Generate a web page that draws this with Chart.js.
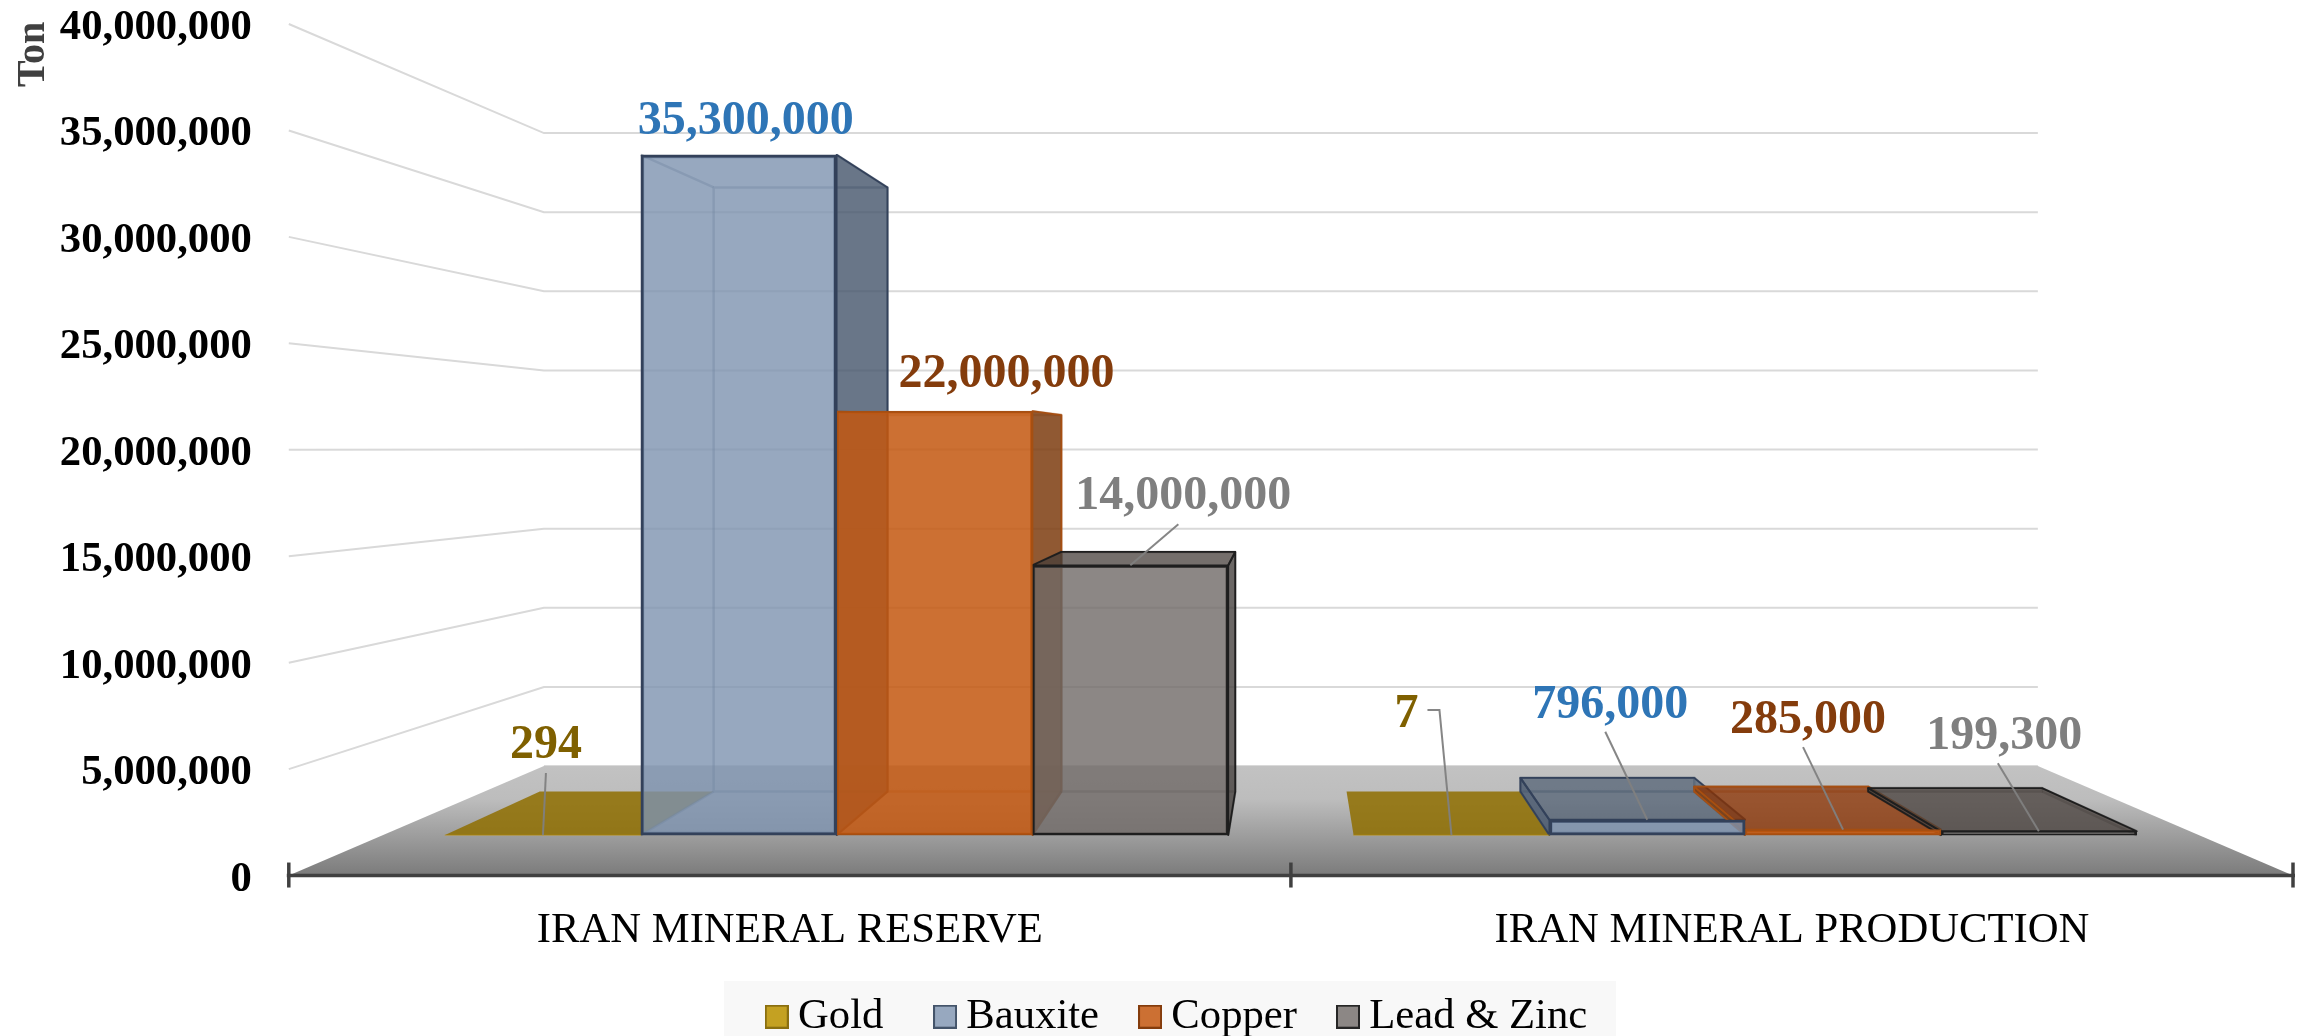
<!DOCTYPE html>
<html>
<head>
<meta charset="utf-8">
<style>html,body{margin:0;padding:0;background:#fff}canvas{display:block}</style>
<script src="https://cdn.jsdelivr.net/npm/chart.js@4/dist/chart.umd.min.js"></script>
</head>
<body>
<canvas id="c" width="2308" height="1036"></canvas>
<script>
const categories = ['IRAN MINERAL RESERVE', 'IRAN MINERAL PRODUCTION'];
const seriesNames = ['Gold', 'Bauxite', 'Copper', 'Lead & Zinc'];
const gold = [294, 7];
const bauxite = [35300000, 796000];
const copper = [22000000, 285000];
const leadZinc = [14000000, 199300];
const axisTicks = [0, 5000000, 10000000, 15000000, 20000000, 25000000, 30000000, 35000000, 40000000];

const FONT = '"Liberation Serif","Times New Roman",serif';
const VP_Y = 446, BAR_DEPTH = 0.888, WALL_VP_Y = 449, WALL_DEPTH_X = 0.7454, WALL_DEPTH_Y = 0.7434;

const styles = [
  {fill:'rgba(191,144,0,.85)', flat:'rgba(143,110,0,.85)', edge:'#7F6000', label:'#7F6000', key:'#C4A122', keyEdge:'#8A6F10', bw:0},
  {fill:'rgba(125,146,175,.8)', shade:'rgba(68,84,106,.8)', top:'rgba(68,84,106,.65)', edge:'#33415A', hidden:'rgba(68,84,106,.4)', label:'#2E75B6', key:'#97A8BF', keyEdge:'#44546A', bw:3},
  {fill:'rgba(195,87,15,.85)', shade:'rgba(125,60,15,.85)', top:'rgba(140,50,0,.75)', edge:'#A64F12', hidden:'rgba(150,70,15,.3)', label:'#843C0C', key:'#CC7033', keyEdge:'#843C0C', bw:2},
  {fill:'rgba(111,105,102,.8)', shade:'rgba(70,65,63,.8)', top:'rgba(71,63,59,.75)', edge:'#1E1E1E', hidden:'rgba(40,40,40,.3)', label:'#7F7F7F', key:'#8C8785', keyEdge:'#262626', bw:2.5}
];
// label placement relative to each bar's top-centre: [dx, baseline dy, leader points]
const placements = [
  [{d:[3,-77], l:[[3,-62],[0,0]]}, {d:[-45,-108], l:[[-24,-125],[-12,-125],[0,0]]}],
  [{d:[7,-21]}, {d:[-37,-102], l:[[-42,-88],[0,0]]}],
  [{d:[72,-24]}, {d:[-35,-96.5], l:[[-40,-82.5],[0,0]]}],
  [{d:[53,-56], l:[[48,-41],[0,0]]}, {d:[-34.5,-82], l:[[-41,-68],[0,0]]}]
];
const fmt = v => Number(v).toLocaleString('en-US');

function keyCanvas(s){
  const c = document.createElement('canvas'); c.width = 24; c.height = 24;
  const g = c.getContext('2d');
  g.fillStyle = s.key; g.fillRect(0,0,24,24);
  g.strokeStyle = s.keyEdge; g.lineWidth = 2; g.strokeRect(1,1,22,22);
  return c;
}
function poly(ctx, pts, fill, stroke, lw){
  ctx.beginPath();
  pts.forEach((p,i)=> i ? ctx.lineTo(p[0],p[1]) : ctx.moveTo(p[0],p[1]));
  ctx.closePath();
  if(fill){ctx.fillStyle=fill;ctx.fill();}
  if(stroke){ctx.strokeStyle=stroke;ctx.lineWidth=lw;ctx.lineJoin='round';ctx.stroke();}
}
const wall3d = {
  id:'wall3d',
  afterLayout(chart){ chart.scales.x.bottom = chart.height; chart.scales.y.left = 0; },
  beforeDraw(chart){
    const ctx = chart.ctx, y = chart.scales.y, area = chart.chartArea;
    // optical centring of the value-axis labels
    y.getLabelItems().forEach(it=>{ if(!it.moved){ it.options.translation[1]+=4; it.moved=true; } });
    const vx = (area.left+area.right)/2;
    const px = x => vx+(x-vx)*WALL_DEPTH_X, py = v => WALL_VP_Y+(v-WALL_VP_Y)*WALL_DEPTH_Y;
    ctx.save();
    ctx.fillStyle='#fff'; ctx.fillRect(0,0,chart.width,chart.height);
    // legend panel
    ctx.fillStyle='#F8F8F8';
    ctx.fillRect(724, 981, 892, 55);
    // grid on back and left walls
    ctx.strokeStyle='#D9D9D9'; ctx.lineWidth=2;
    axisTicks.forEach(v=>{
      const fy = y.getPixelForValue(v), by = py(fy);
      ctx.beginPath();
      if(v>0){ctx.moveTo(area.left,fy);ctx.lineTo(px(area.left),by);}
      else ctx.moveTo(px(area.left),by);
      ctx.lineTo(px(area.right),by);
      ctx.stroke();
    });
    // floor
    const b = y.getPixelForValue(0), bb = py(b);
    const g = ctx.createLinearGradient(0,bb,0,b);
    g.addColorStop(0,'#C2C2C2'); g.addColorStop(.3,'#BDBDBD'); g.addColorStop(1,'#7B7B7B');
    poly(ctx,[[area.left,b],[area.right,b],[px(area.right),bb],[px(area.left),bb]],g);
    // bar depth faces
    [0,1,2,3].forEach(di=>{
      const st = styles[di];
      chart.getDatasetMeta(di).data.forEach(el=>{
        const hw = el.width/2;
        const l=el.x-hw, r=el.x+hw, t=el.y, bo=el.base;
        const bx=x=>vx+(x-vx)*BAR_DEPTH, by=v=>VP_Y+(v-VP_Y)*BAR_DEPTH;
        if(di===0){ poly(ctx,[[l,bo],[r,bo],[bx(r),by(bo)],[bx(l),by(bo)]],st.flat); return; }
        // hidden edges seen through the translucent faces
        poly(ctx,[[bx(l),by(t)],[bx(r),by(t)],[bx(r),by(bo)],[bx(l),by(bo)]],null,st.hidden,2.5);
        [[l,t],[r,t],[l,bo],[r,bo]].forEach(p=>{
          ctx.beginPath();ctx.moveTo(p[0],p[1]);ctx.lineTo(bx(p[0]),by(p[1]));ctx.strokeStyle=st.hidden;ctx.lineWidth=2.5;ctx.stroke();
        });
        // side visible from the chart centre
        const sx = r<vx ? r : l;
        poly(ctx,[[sx,t],[sx,bo],[bx(sx),by(bo)],[bx(sx),by(t)]],st.shade,st.edge,1.8);
        // top face when it lies below the eye level
        if(t>VP_Y) poly(ctx,[[l,t],[r,t],[bx(r),by(t)],[bx(l),by(t)]],st.top,st.edge,1.8);
      });
    });
    ctx.restore();
  },
  afterDatasetsDraw(chart){
    const ctx = chart.ctx, x = chart.scales.x, area = chart.chartArea;
    ctx.save();
    // category axis line and tick marks
    ctx.strokeStyle='#404040'; ctx.lineWidth=3.5;
    ctx.beginPath();ctx.moveTo(area.left-2,area.bottom);ctx.lineTo(area.right+2,area.bottom);ctx.stroke();
    const half=(x.getPixelForTick(1)-x.getPixelForTick(0))/2;
    [x.getPixelForTick(0)-half,x.getPixelForTick(0)+half,x.getPixelForTick(1)+half].forEach(p=>{
      ctx.beginPath();ctx.moveTo(p,area.bottom-13);ctx.lineTo(p,area.bottom+12);ctx.stroke();
    });
    // leaders and value labels
    chart.data.datasets.forEach((ds,di)=>{
      chart.getDatasetMeta(di).data.forEach((el,i)=>{
        const pl=placements[di][i];
        if(pl.l){
          ctx.strokeStyle='rgba(127,127,127,.95)';ctx.lineWidth=2;ctx.beginPath();
          pl.l.forEach((p,k)=>k?ctx.lineTo(el.x+p[0],el.y+p[1]):ctx.moveTo(el.x+p[0],el.y+p[1]));
          ctx.stroke();
        }
        ctx.font='bold 48px '+FONT;ctx.fillStyle=styles[di].label;ctx.textAlign='center';ctx.textBaseline='alphabetic';
        ctx.fillText(fmt(ds.data[i].y),el.x+pl.d[0],el.y+pl.d[1]);
      });
    });
    // axis title
    ctx.translate(44,87);ctx.rotate(-Math.PI/2);
    ctx.font='bold 40px '+FONT;ctx.fillStyle='#404040';ctx.textAlign='left';
    ctx.fillText('Ton',0,0);
    ctx.restore();
  }
};
const rows = [gold,bauxite,copper,leadZinc];
new Chart(document.getElementById('c'),{
  type:'bar',
  data:{
    labels:categories,
    datasets:seriesNames.map((name,di)=>({
      label:name,
      xAxisID:'xBars',yAxisID:'yBars',
      data:rows[di].map((v,i)=>({x:i,y:v})),
      backgroundColor:styles[di].fill,
      borderColor:styles[di].edge,
      borderWidth:styles[di].bw,
      borderSkipped:false,
      barThickness:195.8
    }))
  },
  plugins:[wall3d],
  options:{
    responsive:false,animation:false,
    layout:{padding:{left:70.9,right:15,top:24,bottom:-12}},
    plugins:{
      tooltip:{enabled:false},
      legend:{
        position:'bottom',
        labels:{
          font:{family:FONT,size:42.67},color:'#000',padding:51,
          boxWidth:0.01,usePointStyle:true,
          generateLabels:()=>seriesNames.map((n,i)=>({text:i===0?n+' ':n,pointStyle:keyCanvas(styles[i]),datasetIndex:i,fontColor:'#000',lineWidth:0}))
        }
      }
    },
    scales:{
      x:{
        type:'category',position:'bottom',offset:true,
        grid:{display:false,drawTicks:false},border:{display:false},
        ticks:{font:{family:FONT,size:42.67,lineHeight:1},color:'#000',padding:34,maxRotation:0,autoSkip:false},
        afterFit:s=>{s.height=68.8;}
      },
      y:{
        type:'linear',position:'left',min:0,max:40000000,
        grid:{display:false,drawTicks:false},border:{display:false},
        afterBuildTicks:s=>{s.ticks=axisTicks.map(v=>({value:v}));},
        ticks:{font:{family:FONT,size:42.67,weight:'bold',lineHeight:1},color:'#000',padding:37,callback:fmt},
        afterFit:s=>{s.width=217.9;s.paddingTop=0;s.paddingBottom=0;}
      },
      xBars:{type:'linear',display:false,offset:false,min:-0.603,max:1.603,grid:{display:false}},
      yBars:{type:'linear',display:false,min:-2100000,max:42090000,grid:{display:false}}
    }
  }
});
</script>
</body>
</html>
